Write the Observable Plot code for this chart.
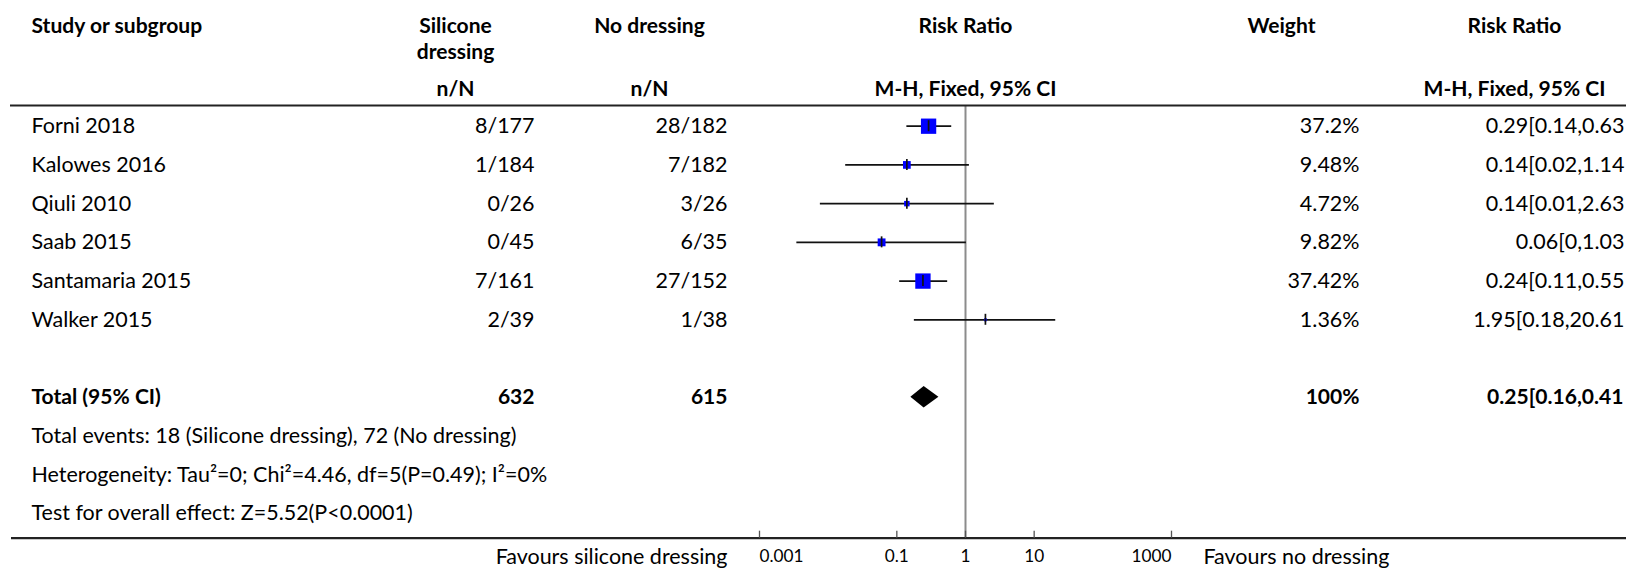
<!DOCTYPE html>
<html><head><meta charset="utf-8">
<script src="https://cdn.jsdelivr.net/npm/d3@7"></script>
<script src="https://cdn.jsdelivr.net/npm/@observablehq/plot@0.6"></script>
<style>html,body{margin:0;padding:0;background:#fff;} #chart svg{display:block}</style>
</head><body><div id="chart"></div><script>
// ---- data ----
const studies = ["Forni 2018", "Kalowes 2016", "Qiuli 2010", "Saab 2015", "Santamaria 2015", "Walker 2015"];
const siliconeText = ["8/177", "1/184", "0/26", "0/45", "7/161", "2/39"];
const noDressingText = ["28/182", "7/182", "3/26", "6/35", "27/152", "1/38"];
const weights = [37.2, 9.48, 4.72, 9.82, 37.42, 1.36];
const weightText = ["37.2%", "9.48%", "4.72%", "9.82%", "37.42%", "1.36%"];
const riskRatio = [0.29, 0.14, 0.14, 0.06, 0.24, 1.95];
const ciLower = [0.14, 0.018, 0.0077, 0.0035, 0.11, 0.18];
const ciUpper = [0.63, 1.14, 2.63, 1.03, 0.55, 20.61];
// the right-hand column is cut at the picture's edge in the reference, as shown here
const rrText = ["0.29[0.14,0.63", "0.14[0.02,1.14", "0.14[0.01,2.63", "0.06[0,1.03", "0.24[0.11,0.55", "1.95[0.18,20.61"];

const totalLabel = "Total (95% CI)";
const totalSilicone = "632";
const totalNoDressing = "615";
const totalWeight = "100%";
const totalRR = 0.25, totalLower = 0.16, totalUpper = 0.41;
const totalRRText = "0.25[0.16,0.41";

const footerLines = [
  "Total events: 18 (Silicone dressing), 72 (No dressing)",
  "Heterogeneity: Tau²=0; Chi²=4.46, df=5(P=0.49); I²=0%",
  "Test for overall effect: Z=5.52(P<0.0001)"
];
const tickValues = [0.001, 0.1, 1, 10, 1000];
const tickLabels = ["0.001", "0.1", "1", "10", "1000"];
const favoursLeft = "Favours silicone dressing";
const favoursRight = "Favours no dressing";

// ---- layout ----
const FONT = "Lato, 'Open Sans', sans-serif";
const ctx = document.createElement("canvas").getContext("2d");
function measure(t, w, s) { ctx.font = `${w} ${s}px Lato`; return ctx.measureText(t).width; }
function fit(t, w, target) { return 20 * target / measure(t, w, 20); }
const fsBody = fit(footerLines[0], 400, 485);
const fsBold = fit("M-H, Fixed, 95% CI", 700, 182);
const fsTick = fit("0.001", 400, 44);

const rows = studies.map((s, i) => ({
  i, study: s, sil: siliconeText[i], no: noDressingText[i], w: weights[i], wt: weightText[i],
  rr: riskRatio[i], lo: ciLower[i], hi: ciUpper[i], rrt: rrText[i]
}));
const ROW_TOTAL = 7;
const total = [{i: ROW_TOTAL, label: totalLabel, sil: totalSilicone, no: totalNoDressing, wt: totalWeight, rrt: totalRRText}];
const footers = footerLines.map((t, k) => ({i: ROW_TOTAL + 1 + k, t}));
const H1 = -2.585, H2 = -1.914, H3 = -0.958, TOP = -0.535, BOTTOM = 10.64, FAV = 11.13;
const DH = 0.28; // diamond half height (rows)
const diamond = [
  {y: ROW_TOTAL - DH, x1: totalRR, x2: totalRR},
  {y: ROW_TOTAL, x1: totalLower, x2: totalUpper},
  {y: ROW_TOTAL + DH, x1: totalRR, x2: totalRR}
];

const headers1 = [
  {t: "Study or subgroup", x: 31, a: "start"},
  {t: "Silicone", x: 455, a: "middle"},
  {t: "No dressing", x: 649, a: "middle"},
  {t: "Risk Ratio", x: 965, a: "middle"},
  {t: "Weight", x: 1281, a: "middle"},
  {t: "Risk Ratio", x: 1514, a: "middle"}
];
const headers2 = [{t: "dressing", x: 455, a: "middle"}];
const headers3 = [
  {t: "n/N", x: 455, a: "middle"},
  {t: "n/N", x: 649, a: "middle"},
  {t: "M-H, Fixed, 95% CI", x: 965, a: "middle"},
  {t: "M-H, Fixed, 95% CI", x: 1514, a: "middle"}
];

function headerMarks(list, y) {
  return list.map(h => Plot.text([h], {text: "t", y: () => y, frameAnchor: "left", dx: h.x, textAnchor: h.a,
    fontSize: fsBold, fontWeight: "bold", fontFamily: FONT, fill: "#000"}));
}
function colText(data, text, x, anchor, bold) {
  return Plot.text(data, {text, y: "i", frameAnchor: "left", dx: x, textAnchor: anchor,
    fontSize: bold ? fsBold : fsBody, fontWeight: bold ? "bold" : "normal", fontFamily: FONT, fill: "#000"});
}
// first tick label starts at its tick, last ends at its tick, others centred
function tickAxis(ticks, anchor) {
  return Plot.axisX({ticks, tickFormat: d => tickLabels[tickValues.indexOf(d)], tickSize: 0, tickPadding: 12,
    fontSize: fsTick, fontFamily: FONT, fill: "#000", anchor: "bottom", textAnchor: anchor});
}

const chart = Plot.plot({
  width: 1626, height: 572,
  marginTop: 0, marginLeft: 0, marginRight: 0, marginBottom: 572 - 537.7,
  style: {fontFamily: FONT, background: "#fff", overflow: "hidden"},
  x: {type: "log", domain: [0.001, 1000], range: [759, 1171], axis: null},
  y: {domain: [0, 10], range: [125.7, 512.9], axis: null},
  r: {type: "sqrt", domain: [0, 100], range: [0, 14.15]},
  marks: [
    Plot.ruleX([1], {y1: TOP, y2: BOTTOM, stroke: "#8c8c8c", strokeWidth: 2}),
    Plot.ruleY([TOP], {insetLeft: 10, stroke: "#222", strokeWidth: 2.2}),
    Plot.ruleY([BOTTOM], {insetLeft: 11, stroke: "#222", strokeWidth: 2.2}),
    Plot.ruleX(tickValues, {x: d => d, y1: BOTTOM - 7 / 38.72, y2: BOTTOM, stroke: "#555", strokeWidth: 1.3}),
    tickAxis(tickValues.slice(0, 1), "start"),
    tickAxis(tickValues.slice(1, -1), "middle"),
    tickAxis(tickValues.slice(-1), "end"),
    // confidence intervals
    Plot.ruleY(rows, {y: "i", x1: "lo", x2: "hi", stroke: "#111", strokeWidth: 1.7}),
    Plot.dot(rows, {x: "rr", y: "i", r: "w", symbol: "square", fill: "#0000ff", stroke: "none"}),
    Plot.ruleX(rows, {x: "rr", y1: d => d.i - 0.142, y2: d => d.i + 0.142, stroke: "#111", strokeWidth: 1.7}),
    Plot.areaX(diamond, {y: "y", x1: "x1", x2: "x2", fill: "#000", curve: "linear"}),
    // headers
    ...headerMarks(headers1, H1),
    ...headerMarks(headers2, H2),
    ...headerMarks(headers3, H3),
    // study rows
    colText(rows, "study", 31, "start", false),
    colText(rows, "sil", 534, "end", false),
    colText(rows, "no", 727, "end", false),
    colText(rows, "wt", 1359, "end", false),
    colText(rows, "rrt", 1624, "end", false),
    // total
    colText(total, "label", 31, "start", true),
    colText(total, "sil", 534, "end", true),
    colText(total, "no", 727, "end", true),
    colText(total, "wt", 1359, "end", true),
    colText(total, "rrt", 1623, "end", true),
    // footers
    colText(footers, "t", 31, "start", false),
    Plot.text([favoursLeft], {text: d => d, y: () => FAV, frameAnchor: "left", dx: 727, textAnchor: "end", fontSize: fsBody, fontFamily: FONT, fill: "#000"}),
    Plot.text([favoursRight], {text: d => d, y: () => FAV, frameAnchor: "left", dx: 1203, textAnchor: "start", fontSize: fsBody, fontFamily: FONT, fill: "#000"})
  ]
});
document.getElementById("chart").append(chart);
</script></body></html>
